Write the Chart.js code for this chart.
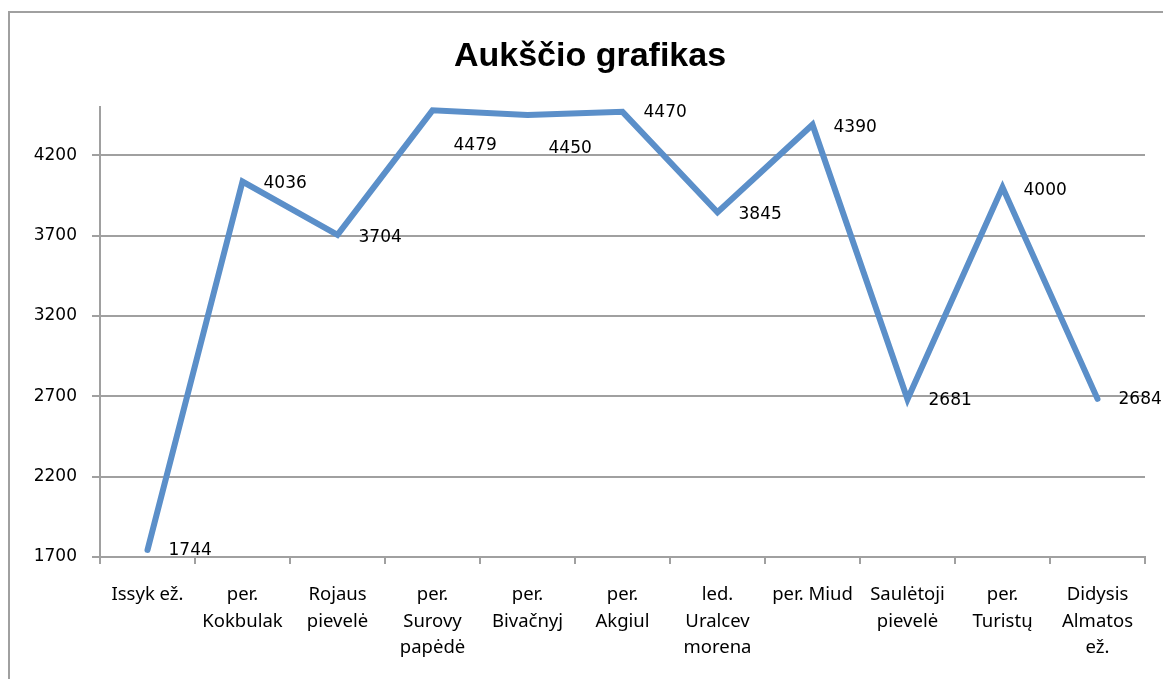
<!DOCTYPE html>
<html>
<head>
<meta charset="utf-8">
<script src="https://cdn.jsdelivr.net/npm/chart.js@4/dist/chart.umd.min.js"></script>
<style>
    html, body { margin: 0; padding: 0; background: #fff; }
    #wrap { width: 1163px; height: 679px; }
</style>
</head>
<body>
<div id="wrap"><canvas id="heightChart"></canvas></div>
<script>
const chartTitle = "Aukščio grafikas";
const categories = [
    ["Issyk ež."],
    ["per.", "Kokbulak"],
    ["Rojaus", "pievelė"],
    ["per.", "Surovy", "papėdė"],
    ["per.", "Bivačnyj"],
    ["per.", "Akgiul"],
    ["led.", "Uralcev", "morena"],
    ["per. Miud"],
    ["Saulėtoji", "pievelė"],
    ["per.", "Turistų"],
    ["Didysis", "Almatos", "ež."]
];
const heights = [1744, 4036, 3704, 4479, 4450, 4470, 3845, 4390, 2681, 4000, 2684];
const yTickValues = [1700, 2200, 2700, 3200, 3700, 4200];
const yMin = 1700;
const yMax = 4500;

// labels sit right of the point; two of them are pushed down like in the original
const labelShiftY = [1, 2, 3, 35, 34, 1, 2, 3, 1, 3, 1];

const gridColor = "#a0a0a0";

const frameAndLabels = {
    id: "frameAndLabels",
    beforeDraw(chart) {
        const ctx = chart.ctx;
        ctx.save();
        ctx.strokeStyle = gridColor;
        ctx.lineWidth = 2;
        ctx.strokeRect(9, 12, 1200, 700);
        ctx.fillStyle = "#000";
        ctx.font = "bold 34px 'Liberation Sans', sans-serif";
        ctx.textAlign = "center";
        ctx.textBaseline = "middle";
        ctx.fillText(chartTitle, 590, 57);
        ctx.restore();
    },
    afterDatasetsDraw(chart) {
        const ctx = chart.ctx;
        const meta = chart.getDatasetMeta(0);
        ctx.save();
        ctx.fillStyle = "#000";
        ctx.font = "17px 'DejaVu Sans', sans-serif";
        ctx.textAlign = "left";
        ctx.textBaseline = "middle";
        meta.data.forEach(function (pt, i) {
            ctx.fillText(String(heights[i]), pt.x + 21, pt.y + labelShiftY[i]);
        });
        ctx.restore();
    }
};

let ctx = document.getElementById("heightChart").getContext("2d");

new Chart(ctx, {
    type: "line",
    data: {
        labels: categories,
        datasets: [{
            label: chartTitle,
            data: heights,
            borderColor: "#5b8fc9",
            borderWidth: 6,
            borderCapStyle: "round",
            tension: 0,
            pointRadius: 0,
            pointHoverRadius: 0,
            fill: false
        }]
    },
    options: {
        responsive: true,
        maintainAspectRatio: false,
        animation: false,
        layout: {
            padding: { top: 107, right: 18, left: 0, bottom: 0 }
        },
        plugins: {
            legend: { display: false },
            title: { display: false },
            tooltip: { enabled: false }
        },
        scales: {
            x: {
                offset: true,
                afterFit: function (scale) { scale.height = 122; },
                grid: {
                    offset: true,
                    drawOnChartArea: false,
                    color: gridColor,
                    lineWidth: 2,
                    tickLength: 7
                },
                border: { color: gridColor, width: 2 },
                ticks: {
                    color: "#000",
                    font: { family: "'Noto Sans', sans-serif", size: 18.5, lineHeight: 1.45 },
                    padding: 17,
                    maxRotation: 0,
                    autoSkip: false
                }
            },
            y: {
                min: yMin,
                max: yMax,
                afterFit: function (scale) { scale.width = 100; },
                afterBuildTicks: function (scale) {
                    scale.ticks = yTickValues.map(v => ({ value: v }));
                },
                grid: {
                    color: gridColor,
                    lineWidth: 2,
                    tickLength: 8
                },
                border: { color: gridColor, width: 2 },
                ticks: {
                    color: "#000",
                    font: { family: "'DejaVu Sans', sans-serif", size: 17 },
                    padding: 15,
                    callback: function (value) { return String(value); }
                }
            }
        }
    },
    plugins: [frameAndLabels]
});
</script>
</body>
</html>
